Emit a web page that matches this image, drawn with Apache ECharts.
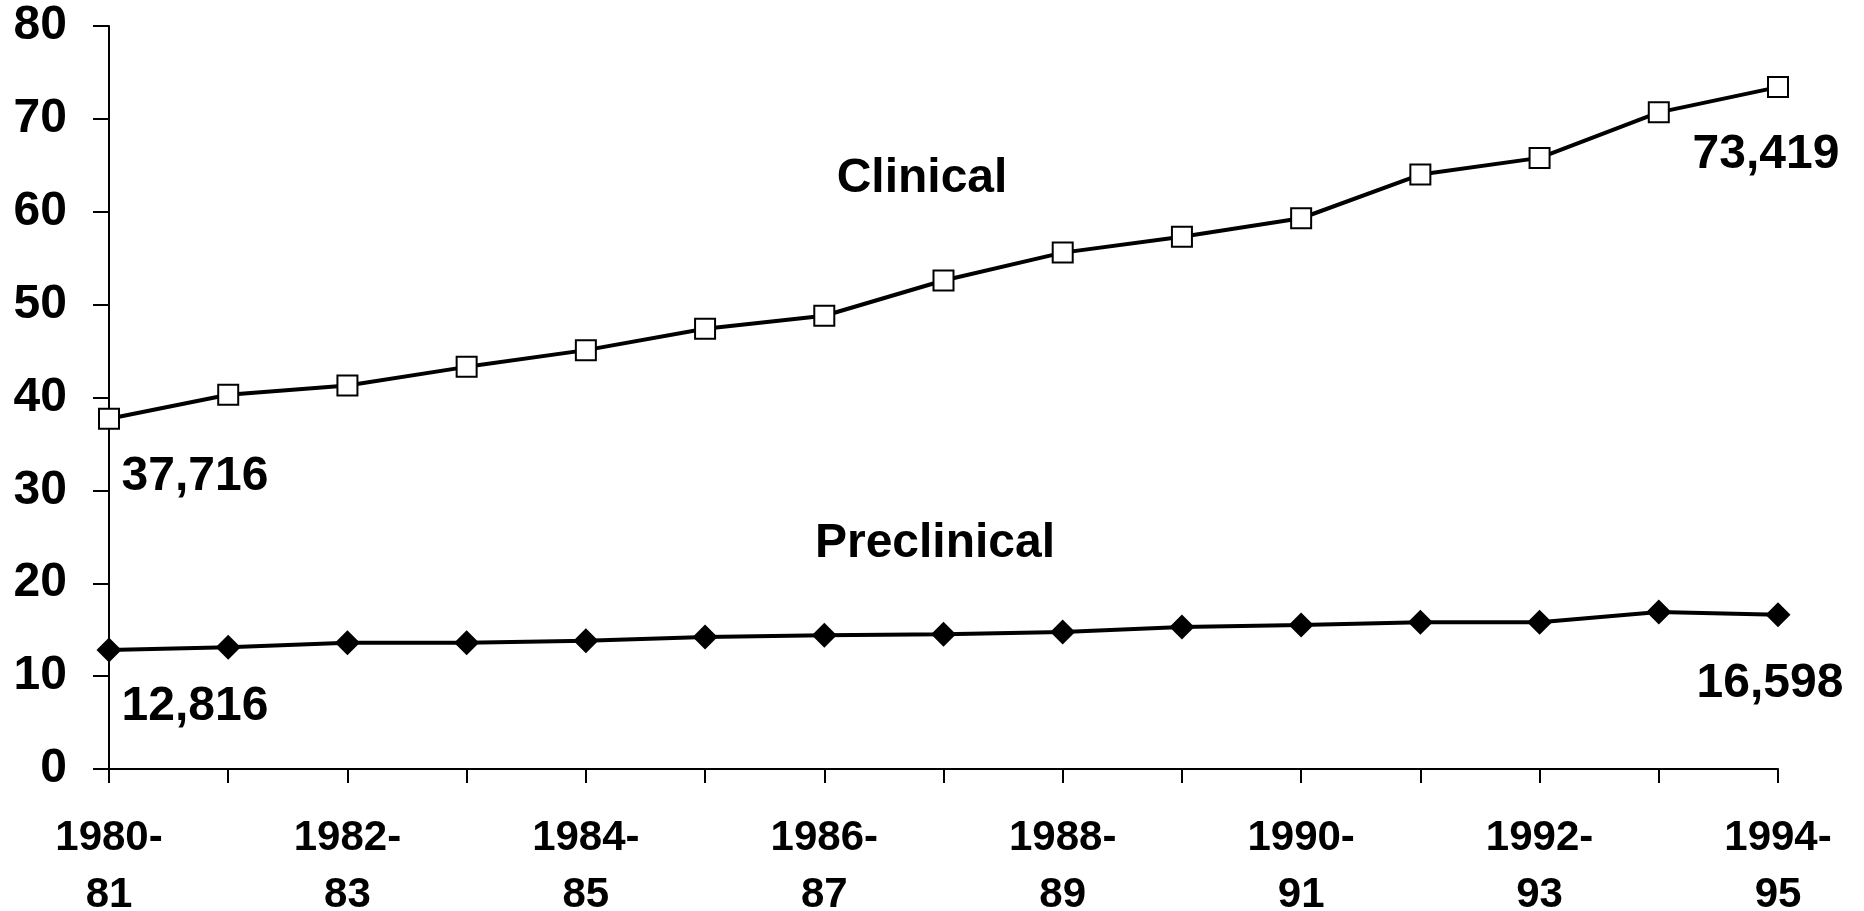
<!DOCTYPE html>
<html>
<head>
<meta charset="utf-8">
<script src="https://cdn.jsdelivr.net/npm/echarts@6/dist/echarts.min.js"></script>
<style>
html,body{margin:0;padding:0;background:#fff;overflow:hidden;}
#chart{width:1864px;height:911px;}
</style>
</head>
<body>
<div id="chart"></div>
<script>
// Academic years
const categories = ['1980-\n81','1981-\n82','1982-\n83','1983-\n84','1984-\n85','1985-\n86','1986-\n87','1987-\n88','1988-\n89','1989-\n90','1990-\n91','1991-\n92','1992-\n93','1993-\n94','1994-\n95'];
// Values in thousands
const clinical = [37.716, 40.3, 41.3, 43.3, 45.1, 47.4, 48.8, 52.6, 55.6, 57.3, 59.3, 64.0, 65.8, 70.7, 73.419];
const preclinical = [12.816, 13.1, 13.6, 13.6, 13.8, 14.2, 14.4, 14.5, 14.75, 15.3, 15.5, 15.8, 15.8, 16.9, 16.598];
const yTicks = [0, 10, 20, 30, 40, 50, 60, 70, 80];
const seriesNames = ['Clinical', 'Preclinical'];

const FONT = '"Liberation Sans", Arial, Helvetica, sans-serif';

function fmt(v) { return Math.round(v * 1000).toLocaleString('en-US'); }

function labelled(arr, labelOpts) {
  return arr.map((v, i) => {
    const o = labelOpts[i];
    if (!o) return v;
    return {
      value: v,
      label: {
        show: true, position: 'inside', align: 'center', verticalAlign: 'middle',
        offset: o, formatter: p => fmt(p.value),
        fontFamily: FONT, fontWeight: 'bold', fontSize: 48, color: '#000'
      }
    };
  });
}

const clinicalData = labelled(clinical, {0: [86, 58], 14: [-12, 68]});
const preData = labelled(preclinical, {0: [86, 57], 14: [-8, 69]});

const chart = echarts.init(document.getElementById('chart'), null, { width: 1864, height: 911 });
chart.setOption({
  backgroundColor: '#fff',
  animation: false,
  grid: { left: 109, width: 1669, top: 26, height: 743, containLabel: false, outerBoundsMode: 'none' },
  xAxis: {
    type: 'category',
    data: categories,
    boundaryGap: false,
    axisLine: { lineStyle: { color: '#000', width: 2 } },
    axisTick: { show: true, interval: 0, length: 14, lineStyle: { color: '#000', width: 2 } },
    axisLabel: {
      interval: 1, margin: 41, color: '#000', fontFamily: FONT, fontWeight: 'bold',
      fontSize: 42, lineHeight: 57, align: 'center'
    },
    splitLine: { show: false }
  },
  yAxis: {
    type: 'value',
    min: yTicks[0], max: yTicks[yTicks.length - 1], interval: 10,
    axisLine: { show: true, lineStyle: { color: '#000', width: 2 } },
    axisTick: { show: true, length: 16, lineStyle: { color: '#000', width: 2 } },
    axisLabel: { margin: 42, color: '#000', fontFamily: FONT, fontWeight: 'bold', fontSize: 48 },
    splitLine: { show: false }
  },
  series: [
    {
      name: seriesNames[0], type: 'line', data: clinicalData,
      symbol: 'rect', symbolSize: 20,
      lineStyle: { color: '#000', width: 4 },
      itemStyle: { color: '#fff', borderColor: '#000', borderWidth: 2 },
      z: 3
    },
    {
      name: seriesNames[1], type: 'line', data: preData,
      symbol: 'diamond', symbolSize: 25,
      lineStyle: { color: '#000', width: 4 },
      itemStyle: { color: '#000', borderColor: '#000', borderWidth: 0 },
      z: 3
    }
  ],
  graphic: [
    { type: 'text', x: 922, y: 179, style: { text: seriesNames[0], align: 'center', verticalAlign: 'middle', font: 'bold 48px ' + FONT, fill: '#000' } },
    { type: 'text', x: 935, y: 544, style: { text: seriesNames[1], align: 'center', verticalAlign: 'middle', font: 'bold 48px ' + FONT, fill: '#000' } }
  ]
});
</script>
</body>
</html>
